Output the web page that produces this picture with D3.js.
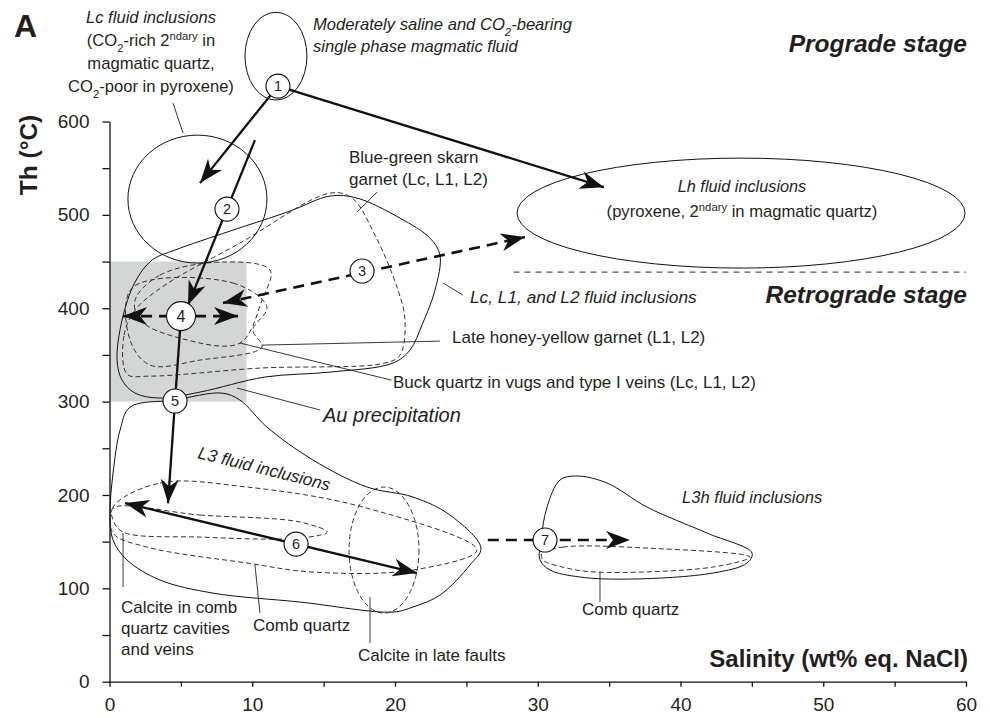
<!DOCTYPE html>
<html>
<head>
<meta charset="utf-8">
<script src="https://cdn.jsdelivr.net/npm/d3@7"></script>
<style>
  body { margin: 0; background: #fff; }
  svg text { font-family: "Liberation Sans", Arial, sans-serif; fill: #231f20; }
</style>
</head>
<body>
<svg width="990" height="718"></svg>
<script>
// tick values
let xTicks = d3.range(0, 61, 5);
let yTicks = d3.range(0, 601, 50);

// fluid inclusion fields, points are [salinity wt%, Th degC]
let lcL1L2Field = [[2.98,451.6],[1.79,428],[0.88,387.3],[0.53,344.5],[0.88,323],[1.79,309.1],[3.54,303.8],[6.34,310.2],[10.89,326.3],[15.44,331.6],[19.86,341.3],[21.05,355.2],[21.89,382],[22.8,419.4],[23.15,456.9],[22.45,475.1],[20.35,496.5],[17.34,518],[15.44,520.1],[12.64,504],[8.44,482.6],[4.59,462.3]];
let blueGreenGarnet = [[1.23,329.5],[1.02,371.2],[1.79,398],[3.89,424.8],[9.14,469.8],[15.44,523.3],[16.99,518],[18.6,478.3],[20.21,419.4],[20.7,387.3],[20.35,349.8],[19.3,341.3],[10.54,335.9],[2.84,327.3]];
let honeyGarnet = [[1.58,421.6],[8.65,427],[11.03,401.2],[10.05,376.6],[10.68,358.4],[6.34,344.5],[2.84,339.1],[1.44,365.9]];
let buckQuartz = [[1.79,408.7],[3.54,435.5],[7.74,449.4],[11.24,440.9],[10.68,408.7],[9.14,362.7],[4.94,368],[2.14,387.3]];
let l3Field = [[1.44,294.1],[4.52,301.6],[7.88,309.1],[9.14,301.6],[11.03,272.7],[14.26,237.4],[18.04,208.5],[21.26,197.8],[23.85,178.5],[26.02,143.1],[25.25,125],[23.15,92.8],[21.26,80],[19.86,74.6],[13.35,85.3],[7.25,94.9],[3.54,108.9],[1.23,130.3],[0.25,151.7],[0.04,180.6],[0.25,223.5],[0.74,269.5]];
let combQuartz = [[0.25,187],[3.54,212.8],[9.63,208.5],[17.76,187],[25.74,141],[21.26,119.6],[14.26,117.4],[9.63,127.1],[2.63,144.2],[0.25,159.2]];
let calciteComb = [[0.25,186],[6.34,178.5],[13.35,171],[15.24,160.3],[13.35,153.8],[6.34,154.9],[0.95,160.3],[0.25,173]];
let l3hField = [[30.16,130.3],[30.23,151.7],[30.65,187],[31.56,216],[32.75,220.3],[34.85,212.8],[37.66,187],[41.86,159.2],[45.01,137.8],[44.66,127.1],[42.28,116.4],[36.46,109.9],[32.96,112.1],[30.86,119.6]];
let l3hComb = [[30.3,137.8],[31.77,144.2],[37.66,143.1],[44.87,133.5],[42.28,122.8],[34.15,117.4],[32.05,121.7],[30.37,130.3]];

// ellipses: [centre salinity, centre Th, radius salinity, radius Th]
let magmaticFluid = [11.66, 670, 2.17, 47];
let lcInclusions = [6.16, 516.9, 4.87, 68.5];
let lhInclusions = [44.24, 501.9, 15.69, 58.9];
let lateFaultCalcite = [19.23, 141, 2.45, 67.5];

// Au precipitation window
let auWindow = [[0, 300], [9.6, 450]];
// prograde / retrograde boundary
let stageLine = [[28.3, 438.6], [60, 438.6]];

// fluid evolution paths
let solidArrows = [
  { from: [11.8, 637.9], to: [6.34, 534] },
  { from: [11.8, 637.9], to: [34.64, 529.7] },
  { from: [10.19, 580.1], to: [5.5, 403.4] },
  { from: [4.59, 300.6], to: [4.1, 191] },
  { from: [1.09, 191.3], to: [21.54, 116.4], both: true }
];
let plainLinks = [
  { from: [5.01, 391.6], to: [4.59, 300.6] }
];
let dashedArrows = [
  { from: [7.95, 405.5], to: [29.1, 476.2], both: true },
  { from: [0.95, 391.6], to: [9.0, 391.6], both: true },
  { from: [26.5, 151.7], to: [36.46, 151.7] }
];
let steps = [
  { n: 1, at: [11.8, 637.9] },
  { n: 2, at: [8.23, 506.2] },
  { n: 3, at: [17.69, 439.8] },
  { n: 4, at: [5.01, 391.6] },
  { n: 5, at: [4.59, 300.6] },
  { n: 6, at: [13.07, 147.4] },
  { n: 7, at: [30.51, 151.7] }
];

// label leader lines
let leaders = [
  [[5.15, 587.6], [4.45, 619.7]],
  [[18.74, 524.4], [17.34, 503]],
  [[23.36, 427], [24.76, 414.1]],
  [[10.68, 360.5], [23.15, 364.8]],
  [[9.14, 362.7], [19.76, 323]],
  [[8.93, 314.5], [14.75, 291]],
  [[0.95, 159.2], [0.95, 101.4]],
  [[10.19, 125], [10.54, 73.5]],
  [[18.25, 90.7], [18.25, 41.4]],
  [[34.36, 117.4], [34.36, 85.3]]
];

let svg = d3.select("svg");
let x = d3.scaleLinear().domain([0, 60]).range([109.5, 966]);
let y = d3.scaleLinear().domain([0, 600]).range([681.7, 121.5]);

let defs = svg.append("defs");
defs.append("marker")
  .attr("id", "head")
  .attr("viewBox", "-26 -11 28 22")
  .attr("refX", 0).attr("refY", 0)
  .attr("markerWidth", 28).attr("markerHeight", 22)
  .attr("markerUnits", "userSpaceOnUse")
  .attr("orient", "auto-start-reverse")
  .append("path")
  .attr("d", "M0,0 L-24,-9 L-17,0 L-24,9 Z")
  .attr("fill", "#111");

// gray Au box
svg.append("rect")
  .attr("x", x(auWindow[0][0]))
  .attr("y", y(auWindow[1][1]))
  .attr("width", x(auWindow[1][0]) - x(auWindow[0][0]))
  .attr("height", y(auWindow[0][1]) - y(auWindow[1][1]))
  .attr("fill", "#d4d5d5");

// axes
let yAxis = d3.axisLeft(y).tickValues(yTicks)
  .tickFormat(d => d % 100 === 0 ? d : "")
  .tickSize(7).tickSizeOuter(0).tickPadding(13);
let xAxis = d3.axisBottom(x).tickValues(xTicks)
  .tickFormat(d => d % 10 === 0 ? d : "")
  .tickSize(5).tickSizeOuter(0).tickPadding(11);

let gy = svg.append("g").attr("transform", "translate(" + x(0) + ",0)").call(yAxis);
let gx = svg.append("g").attr("transform", "translate(0," + y(0) + ")").call(xAxis);
[gx, gy].forEach(g => {
  g.attr("font-family", null).attr("font-size", null);
  g.selectAll("path, line").attr("stroke", "#111").attr("stroke-width", 1.3);
  g.selectAll("text").attr("font-size", 19).attr("fill", "#231f20");
});

let curve = d3.line().x(d => x(d[0])).y(d => y(d[1])).curve(d3.curveCatmullRomClosed.alpha(0.5));

function field(pts, dashed) {
  svg.append("path")
    .attr("d", curve(pts))
    .attr("fill", "none")
    .attr("stroke", dashed ? "#333" : "#111")
    .attr("stroke-width", 1)
    .attr("stroke-dasharray", dashed ? "5,3" : null);
}
function oval(e, dashed) {
  svg.append("ellipse")
    .attr("cx", x(e[0])).attr("cy", y(e[1]))
    .attr("rx", x(e[2]) - x(0)).attr("ry", y(0) - y(e[3]))
    .attr("fill", "none")
    .attr("stroke", dashed ? "#333" : "#111")
    .attr("stroke-width", 1)
    .attr("stroke-dasharray", dashed ? "5,3" : null);
}

field(lcL1L2Field, false);
field(blueGreenGarnet, true);
field(honeyGarnet, true);
field(buckQuartz, true);
field(l3Field, false);
field(combQuartz, true);
field(calciteComb, true);
field(l3hField, false);
field(l3hComb, true);
oval(magmaticFluid, false);
oval(lcInclusions, false);
oval(lhInclusions, false);
oval(lateFaultCalcite, true);

svg.append("line")
  .attr("x1", x(stageLine[0][0])).attr("y1", y(stageLine[0][1]))
  .attr("x2", x(stageLine[1][0])).attr("y2", y(stageLine[1][1]))
  .attr("stroke", "#555").attr("stroke-width", 1.2).attr("stroke-dasharray", "6,5");

svg.selectAll(".leader").data(leaders).enter().append("line")
  .attr("class", "leader")
  .attr("x1", d => x(d[0][0])).attr("y1", d => y(d[0][1]))
  .attr("x2", d => x(d[1][0])).attr("y2", d => y(d[1][1]))
  .attr("stroke", "#222").attr("stroke-width", 0.9);

function arrows(list, dashed) {
  svg.append("g").selectAll("line").data(list).enter().append("line")
    .attr("x1", d => x(d.from[0])).attr("y1", d => y(d.from[1]))
    .attr("x2", d => x(d.to[0])).attr("y2", d => y(d.to[1]))
    .attr("stroke", "#111")
    .attr("stroke-width", dashed ? 2.6 : 2.3)
    .attr("stroke-dasharray", dashed ? "11,7" : null)
    .attr("marker-end", "url(#head)")
    .attr("marker-start", d => d.both ? "url(#head)" : null);
}
arrows(solidArrows, false);
arrows(dashedArrows, true);
svg.append("g").selectAll("line").data(plainLinks).enter().append("line")
  .attr("x1", d => x(d.from[0])).attr("y1", d => y(d.from[1]))
  .attr("x2", d => x(d.to[0])).attr("y2", d => y(d.to[1]))
  .attr("stroke", "#111").attr("stroke-width", 2.3);

let stepG = svg.append("g").selectAll("g").data(steps).enter().append("g")
  .attr("transform", d => "translate(" + x(d.at[0]) + "," + y(d.at[1]) + ")");
stepG.append("circle")
  .attr("r", d => d.n === 4 ? 14.5 : 12)
  .attr("fill", "#fff").attr("stroke", "#111").attr("stroke-width", 1.1);
stepG.append("text")
  .attr("text-anchor", "middle").attr("dy", "0.36em")
  .attr("font-size", d => d.n === 4 ? 16 : 14.5)
  .text(d => d.n);

// text helper: parts are strings or {t, sup} / {t, sub}
function label(px, py, parts, o) {
  o = o || {};
  let size = o.size || 17;
  let t = svg.append("text")
    .attr("x", px).attr("y", py)
    .attr("font-size", size)
    .attr("text-anchor", o.anchor || "start")
    .attr("font-style", o.italic ? "italic" : null)
    .attr("font-weight", o.bold ? "bold" : null);
  if (o.rotate) t.attr("transform", "rotate(" + o.rotate + "," + px + "," + py + ")");
  [].concat(parts).forEach(p => {
    if (typeof p === "string") t.append("tspan").text(p);
    else t.append("tspan")
      .attr("baseline-shift", p.sup ? "super" : "sub")
      .attr("font-size", size * 0.68)
      .text(p.t);
  });
  return t;
}

label(14, 37, "A", { size: 32, bold: true });
label(151, 23, "Lc fluid inclusions", { anchor: "middle", italic: true, size: 16.6 });
label(151, 46, ["(CO", { t: "2", sub: true }, "-rich 2", { t: "ndary", sup: true }, " in"], { anchor: "middle", size: 16.6 });
label(151, 69, "magmatic quartz,", { anchor: "middle", size: 16.6 });
label(151, 92, ["CO", { t: "2", sub: true }, "-poor in pyroxene)"], { anchor: "middle", size: 16.6 });
label(313, 30, ["Moderately saline and CO", { t: "2", sub: true }, "-bearing"], { italic: true, size: 16.6 });
label(313, 52, "single phase magmatic fluid", { italic: true, size: 16.6 });
label(967, 52, "Prograde stage", { anchor: "end", bold: true, italic: true, size: 24.5 });
label(349, 163, "Blue-green skarn");
label(349, 185, "garnet (Lc, L1, L2)");
label(742, 192, "Lh fluid inclusions", { anchor: "middle", italic: true, size: 16.3 });
label(742, 217, ["(pyroxene, 2", { t: "ndary", sup: true }, " in magmatic quartz)"], { anchor: "middle", size: 16.6 });
label(967, 303, "Retrograde stage", { anchor: "end", bold: true, italic: true, size: 24.5 });
label(470, 303, "Lc, L1, and L2 fluid inclusions", { italic: true, size: 17.3 });
label(452, 343, "Late honey-yellow garnet (L1, L2)");
label(393, 388, "Buck quartz in vugs and type I veins (Lc, L1, L2)");
label(323, 422, "Au precipitation", { italic: true, size: 20 });
label(197, 458, "L3 fluid inclusions", { italic: true, size: 17.2, rotate: 14 });
label(682, 503, "L3h fluid inclusions", { italic: true, size: 16.6 });
label(121, 613, "Calcite in comb");
label(121, 634, "quartz cavities");
label(121, 655, "and veins");
label(253, 631, "Comb quartz");
label(358, 661, "Calcite in late faults");
label(582, 615, "Comb quartz");
label(968, 667, "Salinity (wt% eq. NaCl)", { anchor: "end", bold: true, size: 24 });
label(0, 0, "Th (°C)", { anchor: "middle", bold: true, size: 24.5 })
  .attr("transform", "translate(37,155) rotate(-90)");
</script>
</body>
</html>
